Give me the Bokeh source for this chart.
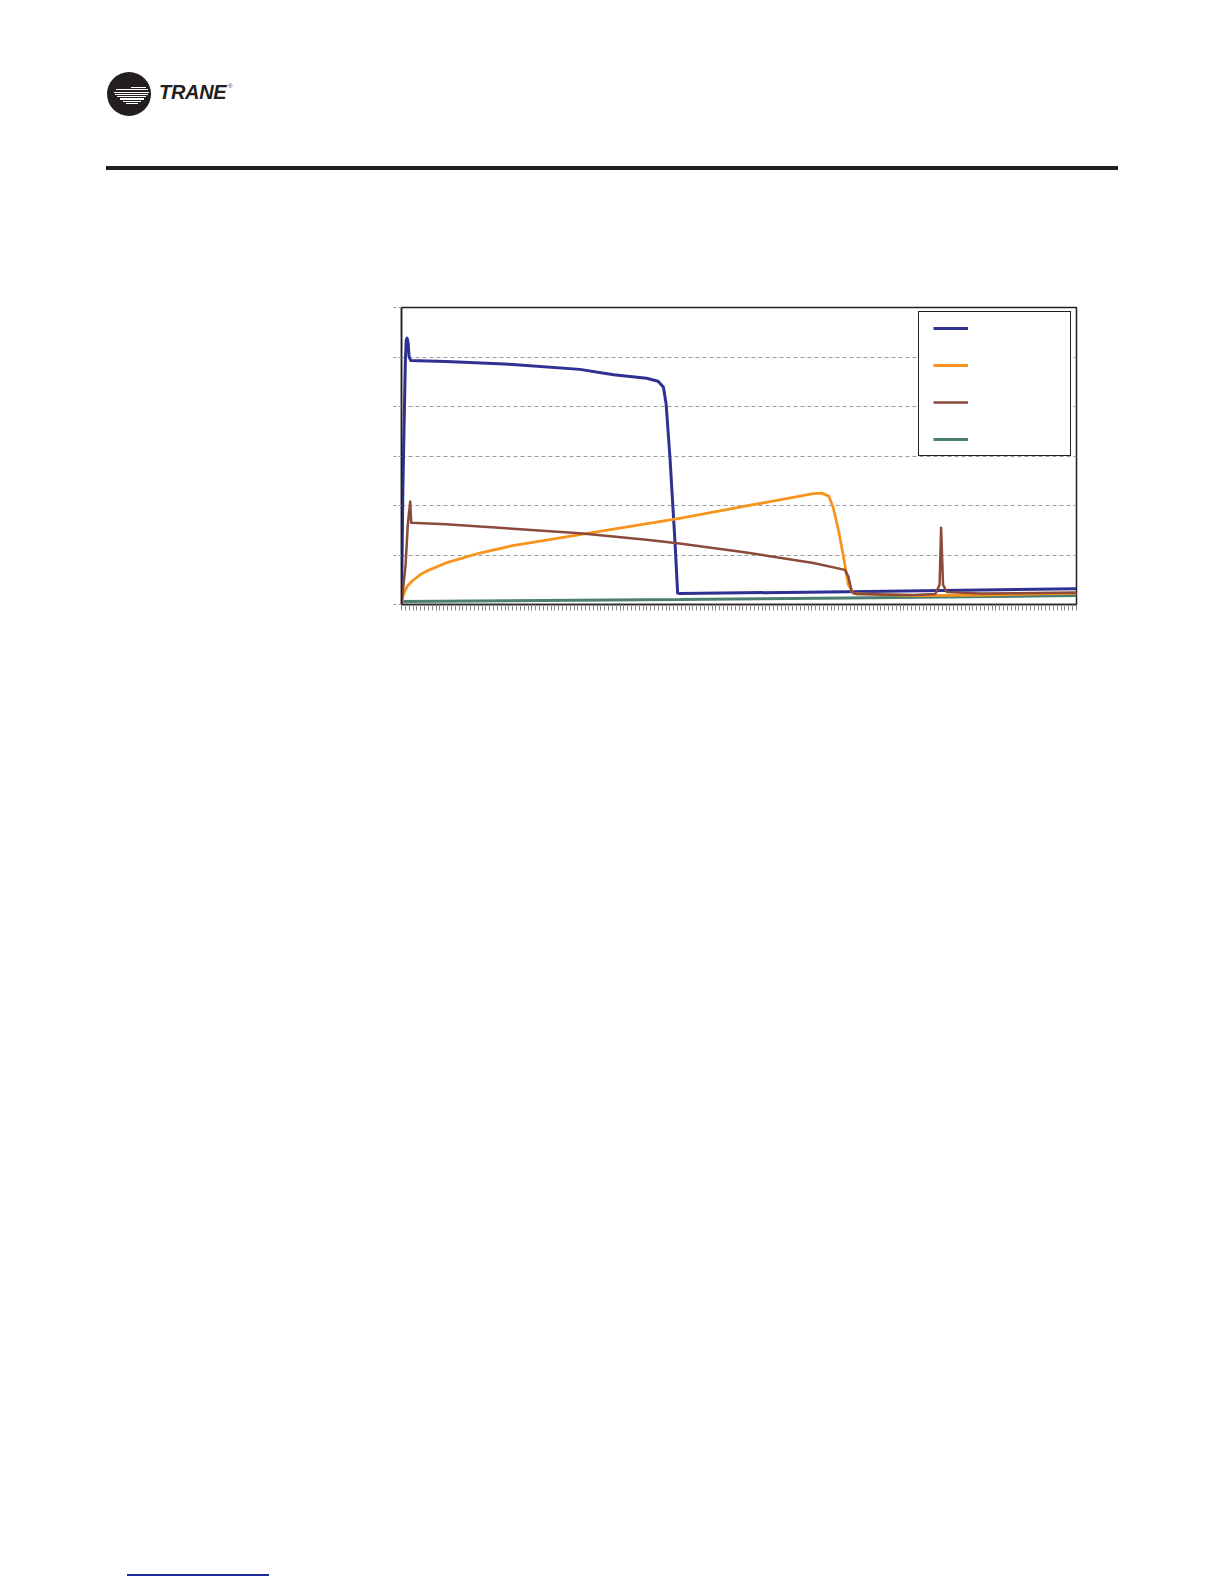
from bokeh.plotting import figure
from bokeh.models import Range1d, FixedTicker, Legend, LegendItem, CustomJSTickFormatter, Div
from bokeh.layouts import column
from bokeh.embed import file_html
from bokeh.resources import INLINE

# ---------------- data (x in sample/tick units, y in gridline units) ----------------
x_ticks = list(range(0, 177))
y_ticks = [0, 1, 2, 3, 4, 5, 6]

blue_x = [0, 0.35, 1.0, 1.25, 1.45, 1.7, 2.0, 2.4, 11.6, 29.0, 46.5, 55.3, 63.9, 66.9,
          68.3, 69.0, 70.0, 71.3, 72.0, 72.5, 116.2, 176]
blue_y = [0, 2.3, 4.9, 5.35, 5.38, 5.3, 5.0, 4.93, 4.91, 4.85, 4.75, 4.64, 4.57, 4.51,
          4.39, 4.05, 2.97, 1.28, 0.23, 0.22, 0.26, 0.32]

orange_x = [0, 0.3, 0.8, 1.6, 3.0, 5.0, 7.3, 11.6, 20.4, 29.0, 46.5, 72.5, 89.9, 107.4,
            109.6, 111.4, 112.6, 114.0, 115.3, 116.5, 117.9, 133.6, 151.0, 176]
orange_y = [0, 0.14, 0.26, 0.38, 0.49, 0.61, 0.70, 0.84, 1.04, 1.19, 1.41, 1.74, 1.99, 2.24,
            2.25, 2.19, 1.95, 1.48, 0.94, 0.40, 0.22, 0.18, 0.19, 0.23]

brown_x = [0, 1.06, 1.65, 2.27, 2.53, 11.6, 29.0, 46.5, 63.9, 72.5, 89.9, 107.4, 115.6,
           116.5, 117.4, 118.6, 133.6, 139.2, 140.3, 140.7, 141.2, 142.2, 151.0, 176]
brown_y = [0, 0.80, 1.62, 2.08, 1.65, 1.62, 1.53, 1.44, 1.31, 1.23, 1.05, 0.84, 0.70,
           0.57, 0.26, 0.21, 0.19, 0.21, 0.40, 1.55, 0.40, 0.25, 0.22, 0.24]

green_x = [0, 72.5, 116.2, 176]
green_y = [0.06, 0.10, 0.13, 0.18]

series_labels = [" ", " ", " ", " "]

BLUE = "#2e3192"
ORANGE = "#f7941d"
BROWN = "#8c4a3b"
GREEN = "#4d7f6f"
INK = "#231f20"

# ---------------- header (logo + rule) as HTML ----------------
stripe_y = [87.5, 89.8, 92.1, 94.4, 96.7, 99.0, 101.3, 103.6]
stripe_x0 = [131, 116, 114, 115, 117, 120, 123, 126]
stripe_x1 = [146, 148, 149, 148, 146, 144, 141, 138]
cx0, cy0, dia = 107, 71.5, 44
stripes = "".join(
    f'<div style="position:absolute;left:{x0 - cx0}px;top:{y - cy0 - 0.6:.1f}px;'
    f'width:{x1 - x0}px;height:1.2px;background:#fff"></div>'
    for x0, x1, y in zip(stripe_x0, stripe_x1, stripe_y))
header_html = (
    '<div style="position:relative;width:1224px;height:178px;">'
    f'<div style="position:absolute;left:{cx0}px;top:{cy0}px;width:{dia}px;height:{dia}px;'
    f'border-radius:50%;background:{INK};overflow:hidden">{stripes}</div>'
    f'<span style="position:absolute;left:159px;top:81.6px;font-family:\'Liberation Sans\';'
    f'font-weight:bold;font-style:italic;font-size:20px;line-height:20px;color:{INK};'
    'letter-spacing:-0.3px;white-space:nowrap">TRANE</span>'
    f'<span style="position:absolute;left:228px;top:83px;font-family:\'Liberation Sans\';'
    f'font-size:6px;line-height:6px;color:{INK}">®</span>'
    f'<div style="position:absolute;left:106px;top:166px;width:1012px;height:4px;background:{INK}"></div>'
    '</div>')
hdr = Div(text=header_html, width=1224, height=178, margin=0)

# ---------------- chart ----------------
p = figure(frame_width=675, frame_height=297, min_border_left=401, min_border_right=148,
           min_border_top=129, min_border_bottom=36,
           x_range=Range1d(0, 176), y_range=Range1d(0, 6),
           output_backend="svg", toolbar_location=None, margin=0)
p.outline_line_color = INK
p.outline_line_width = 1.5
p.outline_line_alpha = 1
p.background_fill_color = "white"

p.xgrid.visible = False
p.ygrid.ticker = FixedTicker(ticks=y_ticks[1:-1])
p.ygrid.grid_line_color = "#9a9a9a"
p.ygrid.grid_line_dash = "4 3"
p.ygrid.grid_line_width = 1

empty = CustomJSTickFormatter(code="return '';")

p.yaxis.ticker = FixedTicker(ticks=y_ticks)
p.yaxis.formatter = empty
p.yaxis.major_tick_out = 8
p.yaxis.major_tick_in = 0
p.yaxis.major_tick_line_color = "#9a9a9a"
p.yaxis.major_tick_line_dash = "3 2"
p.yaxis.minor_tick_line_color = None
p.yaxis.axis_line_color = INK
p.yaxis.axis_line_width = 1.5

p.xaxis.ticker = FixedTicker(ticks=x_ticks)
p.xaxis.formatter = empty
p.xaxis.major_tick_out = 6
p.xaxis.major_tick_in = 0
p.xaxis.major_tick_line_color = "#8a8a8a"
p.xaxis.major_tick_line_width = 1
p.xaxis.minor_tick_line_color = None
p.xaxis.axis_line_color = INK
p.xaxis.axis_line_width = 1.5

r_green = p.line(green_x, green_y, line_color=GREEN, line_width=3)
r_blue = p.line(blue_x, blue_y, line_color=BLUE, line_width=3, line_join="round")
r_orange = p.line(orange_x, orange_y, line_color=ORANGE, line_width=2.8, line_join="round")
r_brown = p.line(brown_x, brown_y, line_color=BROWN, line_width=2.5, line_join="round")

legend = Legend(items=[LegendItem(label=series_labels[0], renderers=[r_blue]),
                       LegendItem(label=series_labels[1], renderers=[r_orange]),
                       LegendItem(label=series_labels[2], renderers=[r_brown]),
                       LegendItem(label=series_labels[3], renderers=[r_green])],
                location=(517, 148))
legend.border_line_color = INK
legend.border_line_width = 1.5
legend.border_line_alpha = 1
legend.background_fill_color = "white"
legend.background_fill_alpha = 1
legend.padding = 14
legend.spacing = 33
legend.margin = 0
legend.glyph_width = 35
legend.glyph_height = 4
legend.label_height = 4
legend.label_width = 83
legend.label_standoff = 5
legend.label_text_font_size = "3px"
p.add_layout(legend)

# ---------------- footer (link underline) as HTML ----------------
footer_html = ('<div style="position:relative;width:1224px;height:940px;">'
               '<div style="position:absolute;left:127px;top:934px;width:142px;height:2px;'
               'background:#1f2a9c"></div></div>')
ftr = Div(text=footer_html, width=1224, height=940, margin=0)

page = column(hdr, p, ftr, spacing=0)
open("out.html", "w").write(file_html(page, INLINE))
